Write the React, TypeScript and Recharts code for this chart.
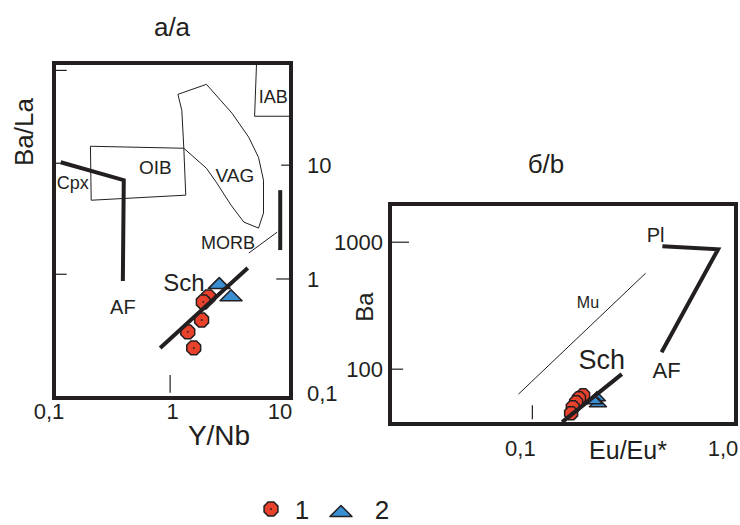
import React from 'react';
import { ScatterChart, Scatter, XAxis, YAxis, ReferenceArea, ReferenceLine } from 'recharts';

const FONT = "'Liberation Sans', Arial, Helvetica, sans-serif";
const INK = '#231f20';
const RED = '#e8412c';
const BLUE = '#3a8fd3';

type Pt = { x: number; y: number };
type Lbl = { x: number; y: number; name: string };

// ---------- Panel a/a : Y/Nb vs Ba/La ----------
const aXTicks = [0.1, 1, 10];
const aXTickLabels = ['0,1', '1', '10'];
const aYTicks = [0.1, 1, 10];
const aYTickLabels = ['0,1', '1', '10'];
const aGroup1: Pt[] = [
  { x: 2.01, y: 0.695 },
  { x: 1.82, y: 0.628 },
  { x: 1.76, y: 0.436 },
  { x: 1.345, y: 0.343 },
  { x: 1.51, y: 0.248 },
];
const aGroup2: Pt[] = [
  { x: 2.48, y: 0.92 },
  { x: 3.12, y: 0.72 },
];
const aSchTrend: Pt[] = [
  { x: 0.787, y: 0.248 },
  { x: 4.315, y: 1.247 },
];
const aCpxAF: Pt[] = [
  { x: 0.114, y: 10.6 },
  { x: 0.388, y: 7.38 },
  { x: 0.381, y: 0.959 },
];
const aMorbBar: Pt[] = [
  { x: 8.11, y: 6.03 },
  { x: 8.11, y: 1.795 },
];
const aMorbLeader: Pt[] = [
  { x: 4.4, y: 1.69 },
  { x: 7.65, y: 2.58 },
];
const aOIB: Pt[] = [
  { x: 0.203, y: 14.66 },
  { x: 1.246, y: 14.08 },
  { x: 1.294, y: 5.45 },
  { x: 0.206, y: 4.92 },
  { x: 0.203, y: 14.66 },
];
const aVAG: Pt[] = [
  { x: 1.111, y: 41.9 },
  { x: 1.933, y: 51.3 },
  { x: 3.18, y: 28.6 },
  { x: 4.4, y: 17.6 },
  { x: 5.32, y: 11.7 },
  { x: 5.86, y: 7.38 },
  { x: 5.86, y: 3.79 },
  { x: 5.32, y: 2.8 },
  { x: 4.0, y: 3.16 },
  { x: 3.12, y: 4.45 },
  { x: 2.34, y: 7.08 },
  { x: 1.933, y: 9.4 },
  { x: 1.246, y: 14.08 },
  { x: 1.199, y: 30.3 },
  { x: 1.111, y: 41.9 },
];
const aIAB: Pt[] = [
  { x: 5.12, y: 79 },
  { x: 4.93, y: 26.9 },
  { x: 10, y: 26.9 },
];
const aLabels: Lbl[] = [
  { x: 7.09, y: 40.3, name: 'IAB' },
  { x: 0.716, y: 9.6, name: 'OIB' },
  { x: 3.365, y: 8.16, name: 'VAG' },
  { x: 0.144, y: 7.08, name: 'Cpx' },
  { x: 2.94, y: 2.11, name: 'MORB' },
  { x: 0.381, y: 0.567, name: 'AF' },
  { x: 1.246, y: 0.94, name: 'Sch' },
];
const aLeftTickYs = [68, 10.4, 1.1];
const aRightTicks: Pt[] = [
  { x: 8.26, y: 10 },
  { x: 7.51, y: 1 },
];
const aBottomTickX = 0.955;

// ---------- Panel б/b : Eu/Eu* vs Ba ----------
const bXTicks = [0.1, 1];
const bXTickLabels = ['0,1', '1,0'];
const bYTicks = [100, 1000];
const bYTickLabels = ['100', '1000'];
const bGroup1: Pt[] = [
  { x: 0.1775, y: 62.4 },
  { x: 0.1694, y: 59.1 },
  { x: 0.164, y: 55.0 },
  { x: 0.158, y: 50.2 },
  { x: 0.155, y: 45.0 },
];
const bGroup2: Pt[] = [
  { x: 0.2075, y: 61.3 },
  { x: 0.21, y: 55.0 },
  { x: 0.2006, y: 58.0 },
];
const bSchTrend: Pt[] = [
  { x: 0.14, y: 38.3 },
  { x: 0.275, y: 91.4 },
];
const bPlAF: Pt[] = [
  { x: 0.435, y: 930 },
  { x: 0.817, y: 881 },
  { x: 0.431, y: 136 },
];
const bMu: Pt[] = [
  { x: 0.0855, y: 63.6 },
  { x: 0.36, y: 570 },
];
const bLabels: Lbl[] = [
  { x: 0.403, y: 1135, name: 'Pl' },
  { x: 0.456, y: 98, name: 'AF' },
  { x: 0.219, y: 120, name: 'Sch' },
  { x: 0.1876, y: 337, name: 'Mu' },
];
const bLeftTicks: Pt[] = [
  { x: 0.0248, y: 1000 },
  { x: 0.0232, y: 100 },
];
const bBottomTickX = 0.1;

// ---------- styles ----------
const aLabelSize: Record<string, number> = { IAB: 18, OIB: 19, VAG: 19, Cpx: 18, MORB: 18, AF: 20, Sch: 24 };
const bLabelSize: Record<string, number> = { Pl: 20, AF: 22, Sch: 27, Mu: 16 };

const NoDot = () => <g />;

const hexPoints = (cx: number, cy: number, r: number) => {
  const pts: string[] = [];
  for (let i = 0; i < 8; i++) {
    const a = Math.PI / 8 + (i * Math.PI) / 4;
    pts.push(`${cx + r * Math.cos(a)},${cy + r * Math.sin(a)}`);
  }
  return pts.join(' ');
};

const makeHex = (r: number) => (p: any) => (
  <g>
    <polygon points={hexPoints(p.cx, p.cy, r)} fill={RED} stroke={INK} strokeWidth={1.5} />
    <circle cx={p.cx} cy={p.cy} r={0.9} fill={INK} />
  </g>
);

const makeTri = (w: number, h: number) => (p: any) => (
  <polygon
    points={`${p.cx - w / 2},${p.cy + h / 2} ${p.cx + w / 2},${p.cy + h / 2} ${p.cx},${p.cy - h / 2}`}
    fill={BLUE}
    stroke={INK}
    strokeWidth={1.5}
    strokeLinejoin="round"
  />
);

const makeLabel = (sizes: Record<string, number>) => (p: any) => {
  const name = p.payload?.name ?? '';
  const fs = sizes[name] ?? 18;
  return (
    <text x={p.cx} y={p.cy} dy="0.36em" textAnchor="middle" fontSize={fs} fill={INK} fontFamily={FONT}>
      {name}
    </text>
  );
};

const makeTick = (
  values: number[],
  labels: string[],
  dxs: number[],
  anchor: 'middle' | 'start' | 'end',
  dy: string,
  fontSize: number
) => (props: any) => {
  const { x, y, payload } = props;
  const i = values.indexOf(Number(payload.value));
  return (
    <text x={x + (dxs[i] ?? 0)} y={y} dy={dy} textAnchor={anchor} fontSize={fontSize} fill={INK} fontFamily={FONT}>
      {labels[i] ?? String(payload.value)}
    </text>
  );
};

const thin = { stroke: INK, strokeWidth: 1 };
const thick = { stroke: INK, strokeWidth: 4 };

function PanelA() {
  return (
    <ScatterChart width={345} height={525} margin={{ top: 63, right: 9, bottom: 97, left: 54 }}>
      <XAxis
        type="number"
        dataKey="x"
        scale="log"
        domain={[0.1, 10]}
        allowDataOverflow
        ticks={aXTicks}
        axisLine={false}
        tickLine={false}
        height={30}
        tickSize={3}
        tickMargin={2}
        interval={0}
        tick={makeTick(aXTicks, aXTickLabels, [-5, 0, -11], 'middle', '0.71em', 22)}
      />
      <YAxis
        type="number"
        dataKey="y"
        orientation="right"
        scale="log"
        domain={[0.09, 79]}
        allowDataOverflow
        ticks={aYTicks}
        axisLine={false}
        tickLine={false}
        width={45}
        tickSize={8}
        tickMargin={8}
        interval={0}
        tick={makeTick(aYTicks, aYTickLabels, [0, 0, 0], 'start', '0.36em', 22)}
      />
      <ReferenceArea x1={0.1} x2={10} y1={0.09} y2={79} fill="none" stroke={INK} strokeWidth={4} ifOverflow="visible" />
      {aLeftTickYs.map((v) => (
        <ReferenceLine key={'l' + v} segment={[{ x: 0.1, y: v }, { x: 0.128, y: v }]} stroke={INK} strokeWidth={1.2} ifOverflow="visible" />
      ))}
      {aRightTicks.map((t) => (
        <ReferenceLine key={'r' + t.y} segment={[{ x: t.x, y: t.y }, { x: 10, y: t.y }]} stroke={INK} strokeWidth={1.2} ifOverflow="visible" />
      ))}
      <ReferenceLine segment={[{ x: aBottomTickX, y: 0.1 }, { x: aBottomTickX, y: 0.1436 }]} stroke={INK} strokeWidth={1.2} ifOverflow="visible" />
      <Scatter data={aOIB} line={thin} shape={NoDot} isAnimationActive={false} />
      <Scatter data={aVAG} line={thin} shape={NoDot} isAnimationActive={false} />
      <Scatter data={aIAB} line={thin} shape={NoDot} isAnimationActive={false} />
      <Scatter data={aMorbLeader} line={thin} shape={NoDot} isAnimationActive={false} />
      <Scatter data={aMorbBar} line={thick} shape={NoDot} isAnimationActive={false} />
      <Scatter data={aCpxAF} line={thick} shape={NoDot} isAnimationActive={false} />
      <Scatter data={aGroup2} shape={makeTri(22, 11)} isAnimationActive={false} />
      <Scatter data={aGroup1} shape={makeHex(7.5)} isAnimationActive={false} />
      <Scatter data={aSchTrend} line={thick} shape={NoDot} isAnimationActive={false} />
      <Scatter data={aLabels} shape={makeLabel(aLabelSize)} isAnimationActive={false} />
    </ScatterChart>
  );
}

function PanelB() {
  return (
    <ScatterChart width={440} height={525} margin={{ top: 204, right: 4, bottom: 71, left: 46 }}>
      <XAxis
        type="number"
        dataKey="x"
        scale="log"
        domain={[0.02, 1]}
        allowDataOverflow
        ticks={bXTicks}
        axisLine={false}
        tickLine={false}
        height={30}
        tickSize={8}
        tickMargin={8}
        interval={0}
        tick={makeTick(bXTicks, bXTickLabels, [-12, -13], 'middle', '0.71em', 22)}
      />
      <YAxis
        type="number"
        dataKey="y"
        scale="log"
        domain={[37, 2000]}
        allowDataOverflow
        ticks={bYTicks}
        axisLine={false}
        tickLine={false}
        width={44}
        tickSize={4}
        tickMargin={3}
        interval={0}
        tick={makeTick(bYTicks, bYTickLabels, [0, 0], 'end', '0.36em', 22)}
      />
      <ReferenceArea x1={0.02} x2={1} y1={37} y2={2000} fill="none" stroke={INK} strokeWidth={4} ifOverflow="visible" />
      {bLeftTicks.map((t) => (
        <ReferenceLine key={'l' + t.y} segment={[{ x: 0.02, y: t.y }, { x: t.x, y: t.y }]} stroke={INK} strokeWidth={1.2} ifOverflow="visible" />
      ))}
      <ReferenceLine segment={[{ x: bBottomTickX, y: 40.4 }, { x: bBottomTickX, y: 52.1 }]} stroke={INK} strokeWidth={1.2} ifOverflow="visible" />
      <Scatter data={bMu} line={thin} shape={NoDot} isAnimationActive={false} />
      <Scatter data={bPlAF} line={thick} shape={NoDot} isAnimationActive={false} />
      <Scatter data={bGroup2} shape={makeTri(17, 9)} isAnimationActive={false} />
      <Scatter data={bGroup1} shape={makeHex(7)} isAnimationActive={false} />
      <Scatter data={bSchTrend} line={thick} shape={NoDot} isAnimationActive={false} />
      <Scatter data={bLabels} shape={makeLabel(bLabelSize)} isAnimationActive={false} />
    </ScatterChart>
  );
}

export default function App() {
  const hexLegend = makeHex(7.5);
  const triLegend = makeTri(22, 11);
  return (
    <div style={{ position: 'absolute', left: 0, top: 0, width: 740, height: 525, background: '#fff', fontFamily: FONT, overflow: 'hidden' }}>
      <div style={{ position: 'absolute', left: 0, top: 0 }}>
        <PanelA />
      </div>
      <div style={{ position: 'absolute', left: 300, top: 0 }}>
        <PanelB />
      </div>
      <svg width={740} height={525} style={{ position: 'absolute', left: 0, top: 0, pointerEvents: 'none' }}>
        <g fill={INK} fontFamily={FONT}>
          <text x={172} y={36} textAnchor="middle" fontSize={26}>а/a</text>
          <text x={546} y={173} textAnchor="middle" fontSize={26}>б/b</text>
          <text transform="translate(33,132) rotate(-90)" textAnchor="middle" fontSize={26}>Ba/La</text>
          <text transform="translate(373,307) rotate(-90)" textAnchor="middle" fontSize={24}>Ba</text>
          <text x={219} y={445} textAnchor="middle" fontSize={28}>Y/Nb</text>
          <text x={628} y={459} textAnchor="middle" fontSize={25}>Eu/Eu*</text>
          <text x={302} y={519} textAnchor="middle" fontSize={26}>1</text>
          <text x={382} y={519} textAnchor="middle" fontSize={26}>2</text>
        </g>
        {hexLegend({ cx: 271, cy: 509 })}
        {triLegend({ cx: 341, cy: 511 })}
      </svg>
    </div>
  );
}
